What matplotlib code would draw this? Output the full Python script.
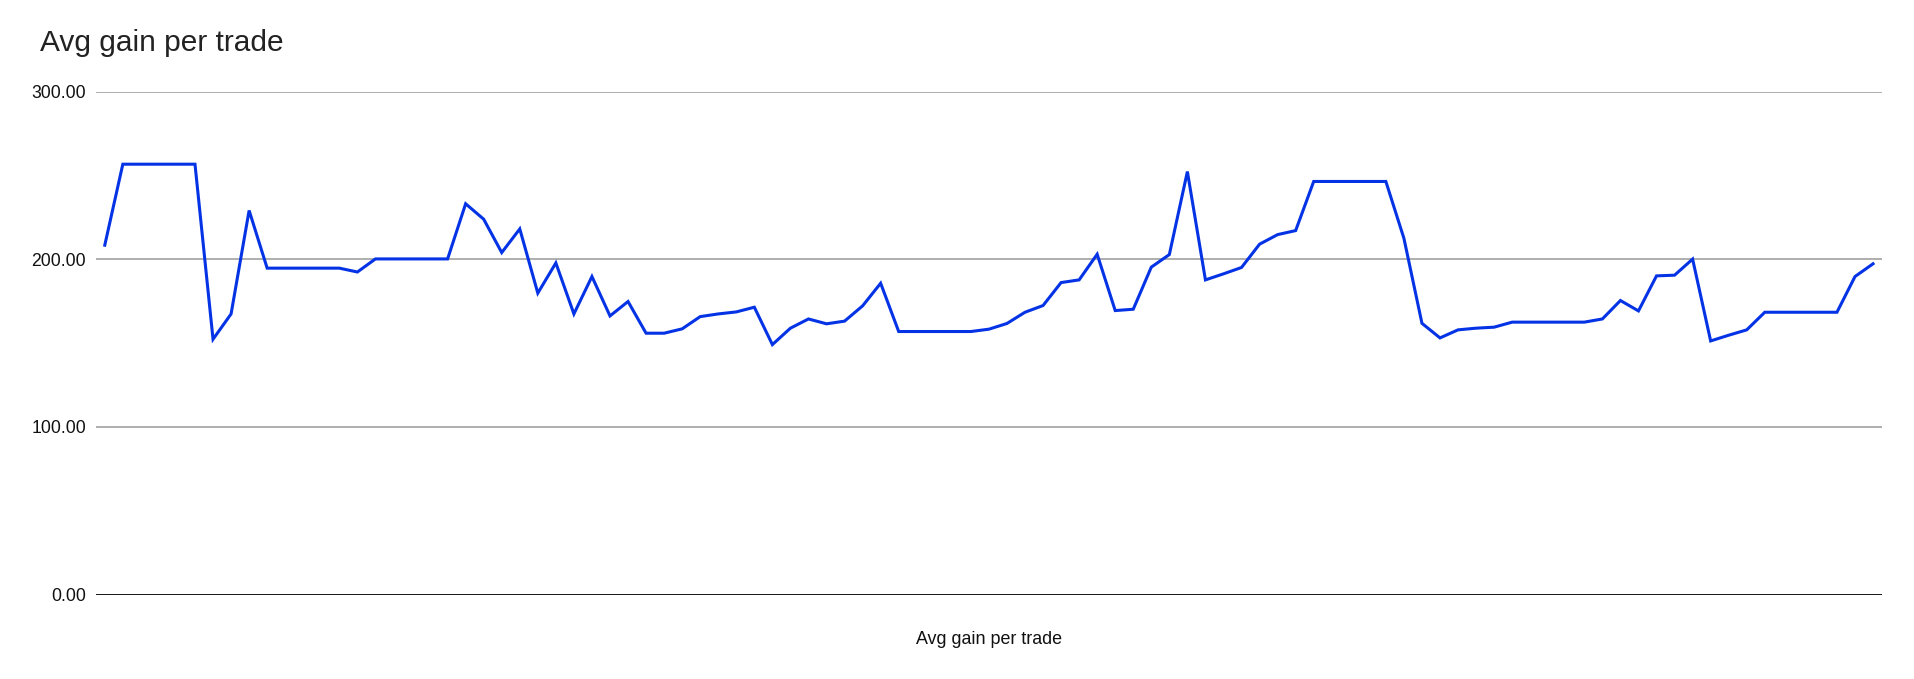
import matplotlib
matplotlib.use("Agg")
import matplotlib.pyplot as plt
import numpy as np

title = "Avg gain per trade"
x_label = "Avg gain per trade"
y_ticks = [0, 100, 200, 300]
y_tick_labels = ["0.00", "100.00", "200.00", "300.00"]

avg_gain = [
    208.4, 256.7, 256.7, 256.7, 256.7, 256.7, 152.3, 167.4, 229.1, 194.7,
    194.7, 194.7, 194.7, 194.7, 192.4, 200.2, 200.2, 200.2, 200.2, 200.2,
    233.1, 223.9, 204.0, 218.1, 179.8, 197.8, 167.4, 189.7, 166.2, 174.8,
    155.9, 155.9, 158.5, 165.8, 167.4, 168.6, 171.4, 149.1, 158.9, 164.4,
    161.5, 163.1, 172.2, 185.7, 156.9, 156.9, 156.9, 156.9, 156.9, 158.3,
    161.7, 168.4, 172.4, 186.1, 187.7, 203.0, 169.4, 170.2, 195.3, 202.8,
    252.3, 187.7, 191.3, 195.1, 209.0, 214.7, 217.1, 246.4, 246.4, 246.4,
    246.4, 246.4, 212.5, 161.8, 153.1, 157.9, 158.9, 159.5, 162.5, 162.5,
    162.5, 162.5, 162.5, 164.4, 175.4, 169.2, 190.1, 190.5, 200.1, 151.3,
    154.7, 157.9, 168.4, 168.4, 168.4, 168.4, 168.4, 189.7, 197.3,
]

plt.rcParams['font.family'] = ['Liberation Sans', 'DejaVu Sans']

fig = plt.figure(figsize=(19.15, 6.79), dpi=100)
ax = fig.add_axes([0.05, 0.1243, 0.9328, 0.7408])

n = len(avg_gain)
x = np.arange(n)
ax.plot(x, avg_gain, color='#0433e6', linewidth=2.2, solid_joinstyle='miter', zorder=3)

ax.set_xlim(-0.5, n - 0.5)
ax.set_ylim(0, 300)
ax.set_yticks(y_ticks)
ax.set_yticklabels(y_tick_labels, fontsize=12.7, color='#111111')
ax.tick_params(axis='y', length=0, pad=7)
ax.set_xticks([])

for v in y_ticks:
    if v == 0:
        ax.axhline(v, color='#000000', linewidth=2.0, zorder=2)
    else:
        ax.axhline(v, color='#999999', linewidth=1.1, zorder=1)

for s in ax.spines.values():
    s.set_visible(False)

fig.text(40 / 1915, 1 - 43 / 679, title, fontsize=21.5, color='#222222',
         ha='left', va='center')
fig.text(0.5164, 39 / 679, x_label, fontsize=12.9, color='#111111',
         ha='center', va='center')

fig.savefig('out.png', dpi=100, facecolor='white')
